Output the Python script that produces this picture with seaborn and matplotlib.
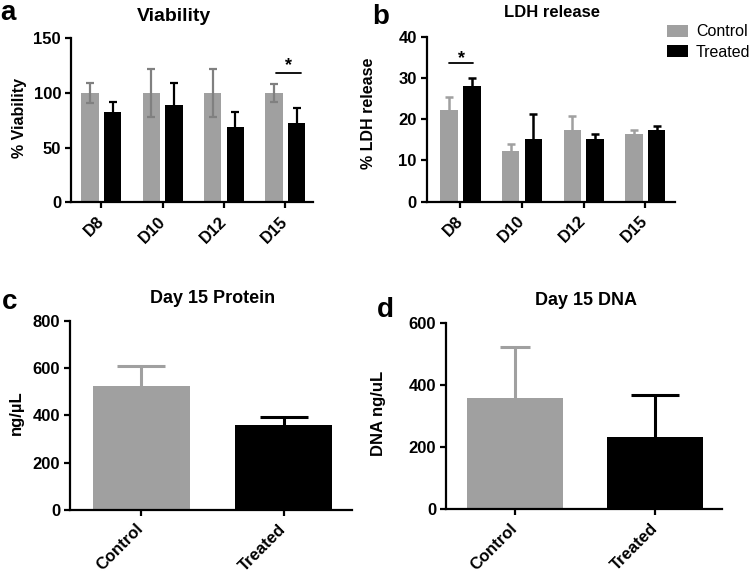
import numpy as np
import pandas as pd
import matplotlib
matplotlib.use("Agg")
import matplotlib.pyplot as plt
import seaborn as sns

# ---------------- data ----------------
days = ["D8", "D10", "D12", "D15"]
groups = ["Control", "Treated"]

viab_control = [100, 100, 100, 100]
viab_control_sd = [9, 22, 22, 8.5]
viab_treated = [83, 89, 69, 72.5]
viab_treated_sd = [8.5, 20.5, 13.5, 14]

ldh_control = [22.3, 12.3, 17.3, 16.4]
ldh_control_err = [3.1, 1.8, 3.5, 1.0]
ldh_treated = [28.0, 15.3, 15.2, 17.4]
ldh_treated_err = [1.9, 6.0, 1.1, 0.9]

protein_values = [525, 359]
protein_err = [82, 34]

dna_values = [359, 234]
dna_err = [166, 135]

viab_ticks = [0, 50, 100, 150]
ldh_ticks = [0, 10, 20, 30, 40]
protein_ticks = [0, 200, 400, 600, 800]
dna_ticks = [0, 200, 400, 600]

# ---------------- style ----------------
sns.set_theme(style="ticks")
plt.rcParams["font.family"] = ["Liberation Sans", "DejaVu Sans"]
plt.rcParams["text.color"] = "black"
plt.rcParams["axes.labelcolor"] = "black"
plt.rcParams["xtick.color"] = "black"
plt.rcParams["ytick.color"] = "black"
plt.rcParams["axes.edgecolor"] = "black"

palette = {"Control": "#a0a0a0", "Treated": "#000000"}
err_colors_a = {"Control": "#808080", "Treated": "#000000"}
err_colors = {"Control": "#a0a0a0", "Treated": "#000000"}

fig = plt.figure(figsize=(7.5, 5.74), dpi=100)
ax_a = fig.add_axes([0.0943, 0.6476, 0.3231, 0.2857])
ax_b = fig.add_axes([0.5687, 0.6486, 0.3313, 0.2875])
ax_c = fig.add_axes([0.0933, 0.1115, 0.3756, 0.3298])
ax_d = fig.add_axes([0.5943, 0.1128, 0.3680, 0.3240])

df_viab = pd.DataFrame({
    "day": days * 2,
    "group": ["Control"] * 4 + ["Treated"] * 4,
    "value": viab_control + viab_treated,
    "err": viab_control_sd + viab_treated_sd,
})
df_ldh = pd.DataFrame({
    "day": days * 2,
    "group": ["Control"] * 4 + ["Treated"] * 4,
    "value": ldh_control + ldh_treated,
    "err": ldh_control_err + ldh_treated_err,
})
df_prot = pd.DataFrame({"group": groups, "value": protein_values, "err": protein_err})
df_dna = pd.DataFrame({"group": groups, "value": dna_values, "err": dna_err})


def style_axis(ax, yticks, xlim, xlabels):
    sns.despine(ax=ax)
    for s in ("left", "bottom"):
        ax.spines[s].set_linewidth(1.6)
    ax.set_ylim(yticks[0], yticks[-1])
    ax.set_xlim(*xlim)
    ax.tick_params(axis="both", width=1.6, length=4, pad=3)
    ax.set_yticks(yticks, labels=[str(t) for t in yticks],
                  fontsize=12, fontweight="bold")
    ax.set_xticks(range(len(xlabels)))
    ax.set_xticklabels(xlabels, rotation=45, ha="right", va="center",
                       rotation_mode="anchor", fontsize=12,
                       fontweight="bold")
    ax.tick_params(axis="x", pad=8)
    ax.set_xlabel("")


def drop_lower_caps(eb, values):
    # keep only the cap at the top end of each one-sided error bar
    for cap in eb[1]:
        yd = np.asarray(cap.get_ydata(), dtype=float)
        if np.allclose(yd, np.asarray(values, dtype=float)):
            cap.set_visible(False)


def grouped_panel(ax, df, ecolors, lw, capsize, two_sided):
    sns.barplot(data=df, x="day", y="value", hue="group", order=days,
                hue_order=groups, palette=palette, width=0.74, gap=0.24,
                errorbar=None, saturation=1, linewidth=0, ax=ax,
                legend=(ax is ax_b))
    centers = {}
    for cont, g in zip(ax.containers, groups):
        sub = df[df["group"] == g].set_index("day").loc[days]
        xs = [b.get_x() + b.get_width() / 2 for b in cont]
        centers[g] = xs
        err = sub["err"].to_numpy()
        vals = sub["value"].to_numpy()
        yerr = err if two_sided else [np.zeros_like(err), err]
        eb = ax.errorbar(xs, vals, yerr=yerr, fmt="none",
                         ecolor=ecolors[g], elinewidth=lw, capsize=capsize,
                         capthick=lw, zorder=3)
        if not two_sided:
            drop_lower_caps(eb, vals)
    return centers


# ---- panel a ----
cen_a = grouped_panel(ax_a, df_viab, err_colors_a, 1.6, 2.7, True)
style_axis(ax_a, viab_ticks, (-0.5, 3.45), days)
ax_a.set_ylabel("% Viability", fontsize=11.5, fontweight="bold")
ax_a.yaxis.set_label_coords(-0.18, 0.515)
ax_a.text(0.426, 1.107, "Viability", transform=ax_a.transAxes, ha="center",
          va="baseline", fontsize=14, fontweight="bold")
x1 = cen_a["Control"][3] + 0.03
x2 = cen_a["Treated"][3] + 0.07
ax_a.plot([x1, x2], [118.6, 118.6], color="black", lw=1.3, clip_on=False)
ax_a.text((x1 + x2) / 2, 120.5, "*", ha="center", va="baseline",
          fontsize=13, fontweight="bold")

# ---- panel b ----
cen_b = grouped_panel(ax_b, df_ldh, err_colors, 1.8, 2.9, False)
style_axis(ax_b, ldh_ticks, (-0.55, 3.48), days)
ax_b.set_ylabel("% LDH release", fontsize=11.5, fontweight="bold")
ax_b.yaxis.set_label_coords(-0.205, 0.536)
ax_b.text(0.504, 1.118, "LDH release", transform=ax_b.transAxes, ha="center",
          va="baseline", fontsize=12, fontweight="bold")
x1 = cen_b["Control"][0]
x2 = cen_b["Treated"][0] + 0.02
ax_b.plot([x1, x2], [33.5, 33.5], color="black", lw=1.3, clip_on=False)
ax_b.text((x1 + x2) / 2, 33.7, "*", ha="center", va="baseline",
          fontsize=13, fontweight="bold")
sns.move_legend(ax_b, "upper left", bbox_to_anchor=(0.968, 1.075), title=None,
                frameon=False, fontsize=11.5, handlelength=1.3,
                handleheight=0.8, handletextpad=0.5, labelspacing=0.35,
                borderpad=0, borderaxespad=0)


# ---- panels c, d ----
def single_panel(ax, df, lw, capsizes):
    sns.barplot(data=df, x="group", y="value", hue="group", order=groups,
                hue_order=groups, palette=palette, width=0.68,
                errorbar=None, saturation=1, linewidth=0, ax=ax, legend=False)
    bars = [b for cont in ax.containers for b in cont]
    for b, g, cs in zip(bars, groups, capsizes):
        row = df[df["group"] == g].iloc[0]
        eb = ax.errorbar([b.get_x() + b.get_width() / 2], [row["value"]],
                         yerr=[[0], [row["err"]]], fmt="none",
                         ecolor=err_colors[g], elinewidth=lw, capsize=cs,
                         capthick=lw, zorder=3)
        drop_lower_caps(eb, [row["value"]])


single_panel(ax_c, df_prot, 2.2, [17, 17])
style_axis(ax_c, protein_ticks, (-0.5, 1.476), groups)
ax_c.set_ylabel("ng/µL", fontsize=12, fontweight="bold")
ax_c.yaxis.set_label_coords(-0.165, 0.512)
ax_c.text(0.507, 1.095, "Day 15 Protein", transform=ax_c.transAxes,
          ha="center", va="baseline", fontsize=13, fontweight="bold")

single_panel(ax_d, df_dna, 2.2, [10.5, 17])
style_axis(ax_d, dna_ticks, (-0.495, 1.476), groups)
ax_d.set_ylabel("DNA ng/uL", fontsize=12, fontweight="bold")
ax_d.yaxis.set_label_coords(-0.215, 0.518)
ax_d.text(0.508, 1.098, "Day 15 DNA", transform=ax_d.transAxes,
          ha="center", va="baseline", fontsize=13, fontweight="bold")

# ---- panel letters ----
for letter, xp, yp in [("a", 0, 19.5), ("b", 372.7, 24), ("c", 1.7, 309.3),
                       ("d", 376.7, 316.7)]:
    fig.text(xp / 750, 1 - yp / 574, letter, fontsize=20, fontweight="bold",
             ha="left", va="baseline")

fig.savefig("out.png", dpi=100)
